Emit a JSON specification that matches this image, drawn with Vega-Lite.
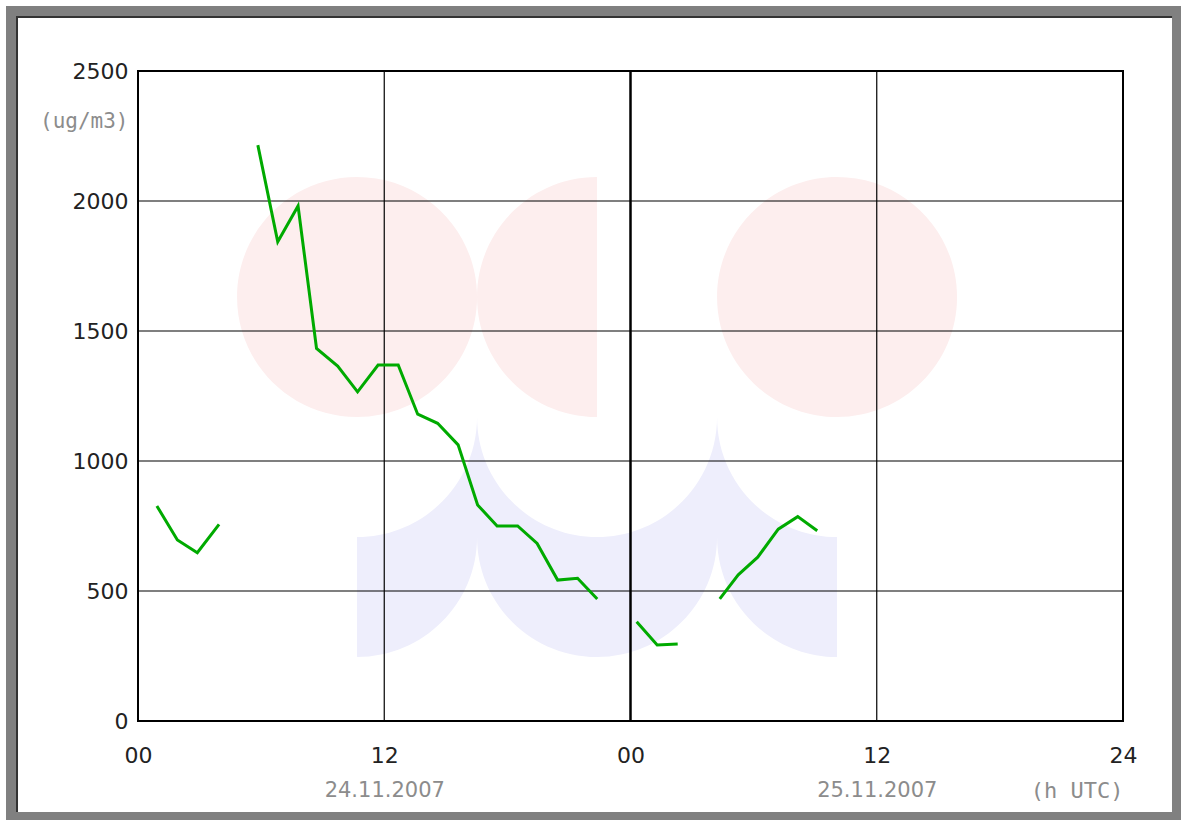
{
  "$schema": "https://vega.github.io/schema/vega-lite/v6.json",
  "width": 985,
  "height": 650,
  "autosize": {"type": "none"},
  "padding": {"left": 138, "top": 71, "right": 58, "bottom": 99},
  "background": "white",
  "config": {
    "view": {"stroke": "black", "strokeWidth": 2},
    "axis": {"grid": false, "domain": false, "ticks": false, "tickSize": 0}
  },
  "resolve": {"axis": {"x": "independent", "y": "independent"}},
  "datasets": {
    "series": [
      {"hour": 0.92, "value": 827, "seg": 1},
      {"hour": 1.92, "value": 696, "seg": 1},
      {"hour": 2.89, "value": 647, "seg": 1},
      {"hour": 3.95, "value": 756, "seg": 1},
      {"hour": 5.84, "value": 2215, "seg": 2},
      {"hour": 6.81, "value": 1843, "seg": 2},
      {"hour": 7.8, "value": 1981, "seg": 2},
      {"hour": 8.7, "value": 1433, "seg": 2},
      {"hour": 9.73, "value": 1365, "seg": 2},
      {"hour": 10.7, "value": 1266, "seg": 2},
      {"hour": 11.7, "value": 1369, "seg": 2},
      {"hour": 12.68, "value": 1369, "seg": 2},
      {"hour": 13.63, "value": 1180, "seg": 2},
      {"hour": 14.6, "value": 1145, "seg": 2},
      {"hour": 15.6, "value": 1062, "seg": 2},
      {"hour": 16.55, "value": 831, "seg": 2},
      {"hour": 17.5, "value": 750, "seg": 2},
      {"hour": 18.5, "value": 750, "seg": 2},
      {"hour": 19.45, "value": 683, "seg": 2},
      {"hour": 20.45, "value": 542, "seg": 2},
      {"hour": 21.42, "value": 549, "seg": 2},
      {"hour": 22.38, "value": 469, "seg": 2},
      {"hour": 24.3, "value": 382, "seg": 3},
      {"hour": 25.3, "value": 292, "seg": 3},
      {"hour": 26.3, "value": 296, "seg": 3},
      {"hour": 28.35, "value": 470, "seg": 4},
      {"hour": 29.25, "value": 562, "seg": 4},
      {"hour": 30.2, "value": 630, "seg": 4},
      {"hour": 31.2, "value": 738, "seg": 4},
      {"hour": 32.15, "value": 786, "seg": 4},
      {"hour": 33.1, "value": 732, "seg": 4}
    ],
    "logo": [{"hour": 22.37, "value": 1169}],
    "frame": [{"x1": -6.14, "x2": 50.68, "y1": -373.1, "y2": 2726.9}],
    "edge": [
      {"hour": -5.896, "value": -350, "o": 1},
      {"hour": -5.896, "value": 2707.7, "o": 2},
      {"hour": 50.39, "value": 2707.7, "o": 3}
    ],
    "hgrid": [{"v": 500}, {"v": 1000}, {"v": 1500}, {"v": 2000}],
    "vthin": [{"h": 12}, {"h": 36}],
    "vthick": [{"h": 24}]
  },
  "layer": [
    {
      "data": {"name": "frame"},
      "mark": {"type": "rect", "filled": false, "color": "#808080", "strokeWidth": 12, "clip": false},
      "encoding": {
        "x": {"field": "x1", "type": "quantitative", "scale": {"domain": [0, 48], "nice": false, "zero": false}, "axis": null},
        "x2": {"field": "x2"},
        "y": {"field": "y1", "type": "quantitative", "scale": {"domain": [0, 2500], "nice": false, "zero": false}, "axis": null},
        "y2": {"field": "y2"}
      }
    },
    {
      "data": {"name": "edge"},
      "mark": {"type": "line", "color": "#333333", "strokeWidth": 2, "clip": false},
      "encoding": {
        "x": {"field": "hour", "type": "quantitative", "scale": {"domain": [0, 48], "nice": false, "zero": false}, "axis": null},
        "y": {"field": "value", "type": "quantitative", "scale": {"domain": [0, 2500], "nice": false, "zero": false}, "axis": null},
        "order": {"field": "o"}
      }
    },
    {
      "data": {"name": "logo"},
      "mark": {"type": "point", "filled": true, "opacity": 1, "strokeWidth": 0, "color": "#fdeeee", "size": 40000,
        "shape": "M -3.6 -1.2 A 1.2 1.2 0 1 0 -1.2 -1.2 A 1.2 1.2 0 1 0 -3.6 -1.2 Z M 0 -2.4 A 1.2 1.2 0 0 0 0 0 Z M 1.2 -1.2 A 1.2 1.2 0 1 0 3.6 -1.2 A 1.2 1.2 0 1 0 1.2 -1.2 Z"},
      "encoding": {
        "x": {"field": "hour", "type": "quantitative", "scale": {"domain": [0, 48], "nice": false, "zero": false},
          "axis": {"orient": "bottom", "values": [12, 36], "labelExpr": "datum.value == 12 ? '24.11.2007' : '25.11.2007'",
            "labelFont": "DejaVu Sans", "labelFontSize": 21, "labelColor": "#8c8c8c", "labelPadding": 69, "labelBaseline": "middle", "labelFlush": false,
            "title": "(h UTC)", "titleFont": "DejaVu Sans Mono", "titleFontSize": 22, "titleFontWeight": "normal", "titleColor": "#8c8c8c",
            "titleX": 985, "titleY": 69, "titleAlign": "right", "titleBaseline": "middle"}},
        "y": {"field": "value", "type": "quantitative", "scale": {"domain": [0, 2500], "nice": false, "zero": false}, "axis": null}
      }
    },
    {
      "data": {"name": "logo"},
      "mark": {"type": "point", "filled": true, "opacity": 1, "strokeWidth": 0, "color": "#eeeefc", "size": 40000,
        "shape": "M -2.4 1.2 A 1.2 1.2 0 0 0 -1.2 0 A 1.2 1.2 0 0 0 0 1.2 A 1.2 1.2 0 0 0 1.2 0 A 1.2 1.2 0 0 0 2.4 1.2 L 2.4 2.4 A 1.2 1.2 0 0 1 1.2 1.2 A 1.2 1.2 0 0 1 0 2.4 A 1.2 1.2 0 0 1 -1.2 1.2 A 1.2 1.2 0 0 1 -2.4 2.4 Z"},
      "encoding": {
        "x": {"field": "hour", "type": "quantitative", "scale": {"domain": [0, 48], "nice": false, "zero": false}, "axis": null},
        "y": {"field": "value", "type": "quantitative", "scale": {"domain": [0, 2500], "nice": false, "zero": false}, "axis": null}
      }
    },
    {
      "data": {"name": "hgrid"},
      "mark": {"type": "rule", "color": "black", "strokeWidth": 1.2},
      "encoding": {
        "y": {"field": "v", "type": "quantitative", "scale": {"domain": [0, 2500], "nice": false, "zero": false}, "axis": null}
      }
    },
    {
      "data": {"name": "vthin"},
      "mark": {"type": "rule", "color": "black", "strokeWidth": 1.2},
      "encoding": {
        "x": {"field": "h", "type": "quantitative", "scale": {"domain": [0, 48], "nice": false, "zero": false}, "axis": null}
      }
    },
    {
      "data": {"name": "vthick"},
      "mark": {"type": "rule", "color": "black", "strokeWidth": 2.5},
      "encoding": {
        "x": {"field": "h", "type": "quantitative", "scale": {"domain": [0, 48], "nice": false, "zero": false}, "axis": null}
      }
    },
    {
      "data": {"name": "series"},
      "mark": {"type": "line", "color": "#00aa00", "strokeWidth": 3},
      "encoding": {
        "x": {"field": "hour", "type": "quantitative", "scale": {"domain": [0, 48], "nice": false, "zero": false},
          "axis": {"orient": "bottom", "values": [0, 12, 24, 36, 48],
            "labelExpr": "datum.value == 0 || datum.value == 24 ? '00' : (datum.value == 12 || datum.value == 36 ? '12' : '24')",
            "labelFont": "DejaVu Sans", "labelFontSize": 22, "labelColor": "#222222", "labelPadding": 34, "labelBaseline": "middle", "labelFlush": false, "title": null}},
        "y": {"field": "value", "type": "quantitative", "scale": {"domain": [0, 2500], "nice": false, "zero": false},
          "axis": {"orient": "left", "values": [0, 500, 1000, 1500, 2000, 2500], "format": "d",
            "labelFont": "DejaVu Sans", "labelFontSize": 22, "labelColor": "#222222", "labelPadding": 10, "labelBaseline": "middle", "labelFlush": false,
            "title": "(ug/m3)", "titleAngle": 0, "titleAlign": "right", "titleBaseline": "middle", "titleX": -10, "titleY": 50,
            "titleFont": "DejaVu Sans Mono", "titleFontSize": 21, "titleFontWeight": "normal", "titleColor": "#8c8c8c"}},
        "detail": {"field": "seg", "type": "nominal"}
      }
    }
  ]
}
